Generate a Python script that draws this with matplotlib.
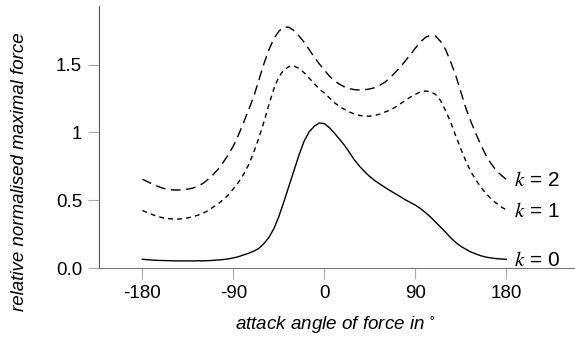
import numpy as np
import matplotlib
matplotlib.use("Agg")
import matplotlib.pyplot as plt

plt.rcParams["font.family"] = ["Liberation Sans", "DejaVu Sans"]
plt.rcParams["mathtext.fontset"] = "stix"

# attack angle in degrees, sampled every 5 degrees
angles = list(range(-180, 181, 5))

force_k0 = [0.066, 0.063, 0.060, 0.058, 0.057, 0.056, 0.055, 0.054, 0.054, 0.054,
            0.054, 0.055, 0.055, 0.056, 0.058, 0.061, 0.064, 0.069, 0.076, 0.085,
            0.098, 0.110, 0.125, 0.145, 0.180, 0.225, 0.290, 0.380, 0.490, 0.605,
            0.720, 0.835, 0.935, 1.005, 1.045, 1.070, 1.065, 1.035, 0.995, 0.950,
            0.905, 0.850, 0.795, 0.750, 0.710, 0.675, 0.645, 0.620, 0.595, 0.572,
            0.550, 0.528, 0.505, 0.485, 0.465, 0.440, 0.410, 0.378, 0.340, 0.303,
            0.265, 0.225, 0.190, 0.162, 0.140, 0.120, 0.105, 0.092, 0.082, 0.076,
            0.071, 0.068, 0.066]

force_k1 = [0.425, 0.410, 0.395, 0.382, 0.372, 0.366, 0.363, 0.362, 0.365, 0.371,
            0.380, 0.391, 0.405, 0.425, 0.450, 0.475, 0.505, 0.540, 0.585, 0.632,
            0.690, 0.760, 0.850, 0.955, 1.070, 1.200, 1.320, 1.410, 1.460, 1.485,
            1.490, 1.470, 1.440, 1.400, 1.360, 1.320, 1.290, 1.255, 1.220, 1.190,
            1.170, 1.150, 1.135, 1.125, 1.120, 1.120, 1.125, 1.135, 1.150, 1.165,
            1.185, 1.210, 1.235, 1.260, 1.280, 1.298, 1.305, 1.300, 1.280, 1.235,
            1.160, 1.075, 0.975, 0.880, 0.790, 0.710, 0.650, 0.595, 0.550, 0.510,
            0.480, 0.452, 0.430]

force_k2 = [0.655, 0.638, 0.620, 0.604, 0.590, 0.581, 0.577, 0.576, 0.578, 0.583,
            0.590, 0.605, 0.625, 0.655, 0.690, 0.730, 0.780, 0.835, 0.900, 0.980,
            1.070, 1.165, 1.260, 1.380, 1.500, 1.605, 1.690, 1.745, 1.775, 1.775,
            1.750, 1.710, 1.665, 1.610, 1.555, 1.505, 1.460, 1.415, 1.380, 1.355,
            1.335, 1.322, 1.315, 1.312, 1.315, 1.320, 1.330, 1.348, 1.370, 1.402,
            1.440, 1.480, 1.525, 1.572, 1.620, 1.665, 1.700, 1.715, 1.710, 1.670,
            1.610, 1.520, 1.420, 1.300, 1.180, 1.080, 0.990, 0.905, 0.830, 0.770,
            0.720, 0.685, 0.655]

curve_labels = ["$k$ = 0", "$k$ = 1", "$k$ = 2"]
x_ticks = [-180, -90, 0, 90, 180]
y_ticks = [0.0, 0.5, 1.0, 1.5]
y_tick_labels = ["0.0", "0.5", "1", "1.5"]

fig = plt.figure(figsize=(5.75, 3.4), dpi=100)
ax = fig.add_axes([0.172, 0.211, 0.828, 0.771])

ax.plot(angles, force_k0, color="black", lw=1.0)
ax.plot(angles, force_k1, color="black", lw=1.0, dashes=(3.5, 3))
ax.plot(angles, force_k2, color="black", lw=1.0, dashes=(7, 4))

# labels at the right end of each curve
for series, label in zip([force_k0, force_k1, force_k2], curve_labels):
    ax.text(188, series[-1] - 0.01, label, fontsize=15, va="center", ha="left")

ax.set_xlim(-223, 248)
ax.set_ylim(0, 1.93)
ax.set_xticks(x_ticks)
ax.set_xticklabels([str(t) for t in x_ticks])
ax.set_yticks(y_ticks)
ax.set_yticklabels(y_tick_labels)

for side in ["top", "right"]:
    ax.spines[side].set_visible(False)
ax.spines["left"].set_color("#555555")
ax.spines["bottom"].set_color("#777777")
ax.tick_params(direction="out", length=8, width=0.8, color="#aaaaaa",
               labelsize=13.5, pad=4)

ax.set_xlabel(r"attack angle of force in $^{\circ}$", fontsize=13.5, style="italic")
ax.set_ylabel("relative normalised maximal force", fontsize=13.5, style="italic")
ax.xaxis.set_label_coords(0.497, -0.175)
ax.yaxis.set_label_coords(-0.148, 0.367)

fig.savefig("out.png", dpi=100)
